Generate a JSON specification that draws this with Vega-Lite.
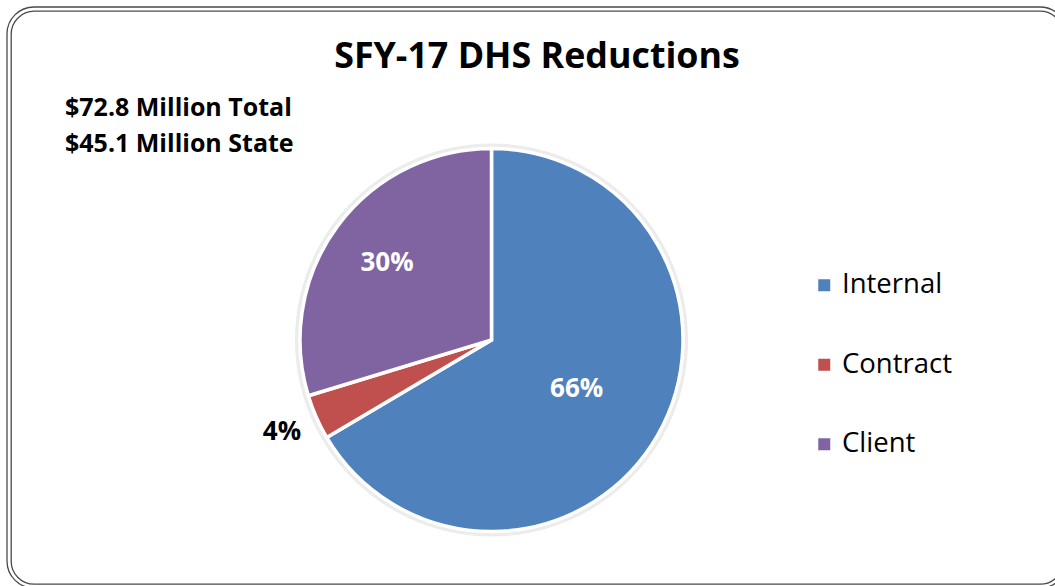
{
  "$schema": "https://vega.github.io/schema/vega-lite/v6.json",
  "autosize": {"type": "none"},
  "padding": {"left": 11, "top": 11, "right": -8, "bottom": 2},
  "width": 1052,
  "height": 573,
  "background": "white",
  "title": {
    "text": "SFY-17 DHS Reductions",
    "anchor": "middle",
    "frame": "group",
    "orient": "top",
    "offset": -97,
    "baseline": "alphabetic",
    "font": "Open Sans",
    "fontSize": 35.8,
    "fontWeight": "bold",
    "color": "#000000"
  },
  "datasets": {
    "slices": [
      {"cat": "Internal", "share": 66.5, "label": "66%", "rank": 1},
      {"cat": "Contract", "share": 3.8, "label": "4%", "rank": 2},
      {"cat": "Client", "share": 29.7, "label": "30%", "rank": 3}
    ],
    "notes": [
      {"note": ["$72.8 Million Total", "$45.1 Million State"]}
    ],
    "frame": [
      {"frame": "outer"}
    ]
  },
  "layer": [
    {
      "data": {"name": "frame"},
      "mark": {"type": "rect", "fill": "transparent", "stroke": "#4a4a4a", "strokeWidth": 1.3, "cornerRadius": 27, "xOffset": -4, "x2Offset": 4, "yOffset": -4, "y2Offset": 4},
      "encoding": {
        "x": {"value": 0},
        "x2": {"value": "width"},
        "y": {"value": 0},
        "y2": {"value": "height"}
      }
    },
    {
      "data": {"name": "slices"},
      "mark": {"type": "arc", "radius": 196, "x": 480.5, "y": 329, "fill": "#ececec", "stroke": "#ececec", "strokeWidth": 1},
      "encoding": {
        "theta": {"field": "share", "type": "quantitative", "stack": true},
        "order": {"field": "rank"},
        "detail": {"field": "cat"}
      }
    },
    {
      "data": {"name": "slices"},
      "mark": {"type": "arc", "radius": 191.5, "x": 480.5, "y": 329, "stroke": "white", "strokeWidth": 3.5},
      "encoding": {
        "theta": {"field": "share", "type": "quantitative", "stack": true},
        "order": {"field": "rank"},
        "color": {
          "field": "cat",
          "type": "nominal",
          "scale": {"domain": ["Internal", "Contract", "Client"], "range": ["#4F81BD", "#C0504D", "#8064A2"]},
          "legend": {
            "title": null,
            "orient": "none",
            "legendX": 799.5,
            "legendY": 260.5,
            "symbolType": "square",
            "symbolSize": 144,
            "symbolStrokeWidth": 0,
            "labelFont": "Open Sans",
            "labelFontSize": 27.5,
            "labelColor": "#000000",
            "labelOffset": 4,
            "rowPadding": 50.5,
            "labelLimit": 300
          }
        }
      }
    },
    {
      "data": {"name": "slices"},
      "mark": {"type": "text", "radius": 98, "x": 480.5, "y": 329, "font": "Open Sans", "fontWeight": "bold", "fontSize": 26, "fill": "white", "align": "center", "baseline": "middle"},
      "encoding": {
        "theta": {"field": "share", "type": "quantitative", "stack": true},
        "order": {"field": "rank"},
        "detail": {"field": "cat"},
        "text": {"condition": {"test": "datum.cat === 'Internal'", "field": "label"}, "value": ""}
      }
    },
    {
      "data": {"name": "slices"},
      "mark": {"type": "text", "radius": 130, "x": 480.5, "y": 329, "font": "Open Sans", "fontWeight": "bold", "fontSize": 26, "fill": "white", "align": "center", "baseline": "middle"},
      "encoding": {
        "theta": {"field": "share", "type": "quantitative", "stack": true},
        "order": {"field": "rank"},
        "detail": {"field": "cat"},
        "text": {"condition": {"test": "datum.cat === 'Client'", "field": "label"}, "value": ""}
      }
    },
    {
      "data": {"name": "slices"},
      "mark": {"type": "text", "radius": 229, "x": 480.5, "y": 329, "font": "Open Sans", "fontWeight": "bold", "fontSize": 26, "fill": "black", "align": "center", "baseline": "middle"},
      "encoding": {
        "theta": {"field": "share", "type": "quantitative", "stack": true},
        "order": {"field": "rank"},
        "detail": {"field": "cat"},
        "text": {"condition": {"test": "datum.cat === 'Contract'", "field": "label"}, "value": ""}
      }
    },
    {
      "data": {"name": "notes"},
      "mark": {"type": "text", "x": 54, "y": 104.5, "align": "left", "baseline": "alphabetic", "font": "Open Sans", "fontWeight": "bold", "fontSize": 25, "lineHeight": 36, "fill": "black"},
      "encoding": {
        "text": {"field": "note", "type": "nominal"}
      }
    }
  ],
  "config": {
    "view": {"stroke": "#4a4a4a", "strokeWidth": 1.3, "cornerRadius": 23}
  }
}
